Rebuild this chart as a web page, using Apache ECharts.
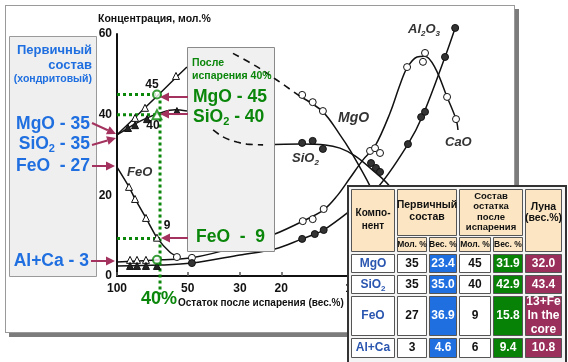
<!DOCTYPE html>
<html><head><meta charset="utf-8">
<script src="https://cdn.jsdelivr.net/npm/echarts@6/dist/echarts.min.js"></script>
<style>
html,body{margin:0;padding:0;background:#fff;width:568px;height:362px;overflow:hidden}
#frame{position:absolute;left:5px;top:5px;width:508px;height:326px;border:1px solid #9a9a9a;background:#fff;box-shadow:4px 4px 0 #7c7c7c}
#c{position:absolute;left:0;top:0;width:568px;height:362px}
</style></head><body>
<div id="frame"></div><div id="c"></div>
<script>
// ---------- DATA (residue wt.%, concentration mol.%) ----------
const residueTicks = [100, 50, 30, 20, 10];
const concTicks = [0, 20, 40, 60];

const mgoCurveA = [[100,35],[83.8,39.3],[76.0,41.7],[65.6,45.3],[56.1,49.2],[50.4,51.8]];
const mgoCurveDashed = [[32.1,55.2],[25.4,51.9],[20.9,48.6],[16.6,44.5]];
const mgoCurveB = [[16.6,44.5],[13.3,40.7],[11.25,35.0],[10.2,31.2],[8.3,21.8],[6.9,11.4],[5.95,2.7]];
const mgoTriangles = [[83.8,39.2],[76.0,41.7],[56.1,49.6]];
const mgoCircles = [[16.3,44.9],[14.7,43.1],[13.3,40.9]];

const sio2CurveA = [[100,35],[92.4,36.2],[83.8,37.7],[74.5,39.2],[65.6,40.4],[56.6,41.2],[50.4,40.9]];
const sio2CurveDashed = [[39.0,36.2],[35.4,34.5],[30.9,33.2],[28.0,32.7],[23.9,32.5]];
const sio2CurveB = [[23.9,32.5],[16.6,32.7],[13.0,32.5],[11.25,31.7],[9.71,29.8],[8.38,26.8],[6.82,21.8],[5.66,12.6],[4.89,2.7]];
const sio2Triangles = [[89.8,36.7],[83.8,37.4],[74.5,38.9],[55.6,40.9]];
const sio2Circles = [[16.3,33.0],[14.7,33.5],[13.3,31.5],[8.30,28.0],[7.91,26.8],[7.60,25.8]];

const feoCurve = [[100,27],[88.9,22.1],[83.8,19.1],[75.3,14.4],[67.6,9.5],[59.5,5.9],[54.0,4.4]];
const feoTriangles = [[88.9,22.1],[83.8,19.1],[75.3,14.4],[67.6,9.5]];

const caoCurve = [[100,3.5],[65.6,4.0],[48.0,4.5],[30.0,7.4],[21.3,10.4],[16.2,13.6],[13.2,16.4],[11.6,19.8],[10.2,24.3],[8.98,28.8],[7.98,32.2],[6.89,40.4],[6.25,47.4],[5.83,51.6],[5.29,54.3],[4.89,54.5],[4.43,51.6],[3.94,44.4],[3.61,38.9],[3.54,36.2]];
const caoTriangles = [[88.0,4.0],[82.2,4.0],[75.3,4.0]];
const caoCircles = [[55.6,4.7],[48.0,4.5],[16.2,13.6],[14.7,14.1],[13.2,16.6],[8.38,31.0],[7.98,31.7],[7.60,30.5],[5.83,51.8],[4.99,53.1],[4.89,55.3],[3.94,44.4],[3.61,38.9]];

const al2o3Curve = [[100,2.5],[65.6,2.7],[48.0,3.2],[30.0,5.2],[21.3,6.7],[16.3,9.2],[14.4,10.4],[13.2,11.4],[10.5,15.6],[7.82,21.8],[5.78,32.7],[4.99,39.9],[4.02,54.3],[3.64,61.5]];
const al2o3Triangles = [[88.0,2.5],[82.2,2.5],[75.3,2.5],[67.6,2.5]];
const al2o3Circles = [[48.0,3.2],[16.3,9.2],[14.4,10.4],[13.2,11.4],[5.78,32.7],[5.08,39.4],[4.89,40.7],[4.02,54.3],[3.64,61.5]];

const guideMgO = [[100,45],[65.6,45]];
const guideSiO2 = [[100,40],[65.6,40]];
const guideFeO = [[100,9.3],[65.6,9.3]];
const guideVertical = [[65.6,45],[65.6,-4.6]];
const highlightCircles = [[67.6,45],[67.6,4.0]];
const highlightTriangles = [[67.6,40]];

// table
const tableComponents = ['MgO','SiO2','FeO','Al+Ca'];
const primaryMol = ['35','35','27','3'];
const primaryWt = ['23.4','35.0','36.9','4.6'];
const residueMol = ['45','40','9','6'];
const residueWt = ['31.9','42.9','15.8','9.4'];
const moonWt = ['32.0','43.4','13+Fe\nIn the\ncore','10.8'];

// ---------- STYLE ----------
const FONT = '"Liberation Sans", Arial, Helvetica, sans-serif';
const BLUE = '#1f6fe0', GREEN = '#0a860a', MAROON = '#a3325e';
const chart = echarts.init(document.getElementById('c'));

function line(data, opt) {
  return Object.assign({type:'line', data, showSymbol:false, clip:false, smooth:0.35, z:2,
    lineStyle:{color:'#111', width:1.5}, silent:true}, opt || {});
}
function dashed(data) {
  return line(data, {z:4, lineStyle:{color:'#111', width:1.6, type:[7,5]}});
}
function pts(data, symbol, fill, size, z) {
  return {type:'scatter', data, symbol, symbolSize:size, clip:false, z:z||3, silent:true,
    itemStyle:{color:fill, borderColor:'#111', borderWidth:1, opacity:1}};
}
function guide(data) {
  return line(data, {smooth:false, z:3, lineStyle:{color:GREEN, width:3, type:'dotted', cap:'butt'}});
}
function txt(text, x, y, size, color, extra, z) {
  return {type:'text', z: z||6, style:Object.assign({text, x, y, fontSize:size, fontWeight:'bold',
    fontFamily:FONT, fill:color, align:'left', verticalAlign:'middle',
    textAlign:'left', textVerticalAlign:'middle'}, extra||{})};
}
function subTxt(parts, x, y, size, color, extra, z) {
  const s = Math.round(size*0.65);
  const base = {fontSize:size, lineHeight:size+4, fontWeight:'bold', fontFamily:FONT, fill:color};
  if (extra && extra.fontStyle) base.fontStyle = extra.fontStyle;
  const sub = Object.assign({}, base, {fontSize:s, lineHeight:s, verticalAlign:'bottom'});
  const text = parts.map(p => '{' + (p[1] ? 's' : 'n') + '|' + p[0] + '}').join('');
  return {type:'text', z: z||6, style:Object.assign({text, x, y, rich:{n:base, s:sub},
    align:'left', verticalAlign:'middle', textAlign:'left', textVerticalAlign:'middle'}, extra||{})};
}
function arrow(x1,y1,x2,y2) {
  const dx=x2-x1, dy=y2-y1, L=Math.hypot(dx,dy), ux=dx/L, uy=dy/L, hl=9, hw=4.5;
  const bx=x2-ux*hl, by=y2-uy*hl;
  return [
    {type:'line', z:7, shape:{x1, y1, x2:bx, y2:by}, style:{stroke:MAROON, lineWidth:2}},
    {type:'polygon', z:7, shape:{points:[[x2,y2],[bx-uy*hw,by+ux*hw],[bx+uy*hw,by-ux*hw]]}, style:{fill:MAROON}}
  ];
}
function compName(n) { return n === 'SiO2' ? [['SiO',0],['2',1]] : [[n,0]]; }

// ---------- GRAPHICS ----------
const g = [];
const R = {align:'right', textAlign:'right'};
g.push({type:'rect', z:1, shape:{x:9.5, y:36.5, width:87, height:240}, style:{fill:'#efefef', stroke:'#9a9a9a', lineWidth:1}});
g.push(txt('Первичный', 92, 50, 13, BLUE, R));
g.push(txt('состав', 92, 65, 13, BLUE, R));
g.push(txt('(хондритовый)', 92, 79, 10.5, BLUE, R));
g.push(subTxt([['MgO - 35',0]], 90, 124, 17.5, BLUE, R));
g.push(subTxt([['SiO',0],['2',1],[' - 35',0]], 90, 144, 17.5, BLUE, R));
g.push(subTxt([['FeO  - 27',0]], 90, 166, 17.5, BLUE, R));
g.push(subTxt([['Al+Ca - 3',0]], 89, 261, 17.5, BLUE, R));
arrow(92,123,116,134).forEach(e=>g.push(e));
arrow(92,145,116,138).forEach(e=>g.push(e));
arrow(92,166,115,166).forEach(e=>g.push(e));
arrow(91,261,115,261).forEach(e=>g.push(e));
g.push({type:'rect', z:3, shape:{x:187.5, y:47.5, width:87, height:204}, style:{fill:'#f0f0f0', stroke:'#8a8a8a', lineWidth:1}});
g.push(txt('После', 192, 63, 10.5, GREEN));
g.push(txt('испарения 40%', 192, 76, 10.5, GREEN));
g.push(subTxt([['MgO - 45',0]], 193, 97, 17.5, GREEN));
g.push(subTxt([['SiO',0],['2',1],[' - 40',0]], 193, 117, 17.5, GREEN));
g.push(subTxt([['FeO  -  9',0]], 196, 237, 17.5, GREEN));
arrow(188,97,160,97).forEach(e=>g.push(e));
arrow(188,114,160,114).forEach(e=>g.push(e));
arrow(188,238,161,238).forEach(e=>g.push(e));
g.push(txt('Концентрация, мол.%', 98, 19, 10.5, '#111'));
g.push(txt('Остаток после испарения (вес.%)', 178, 303, 10, '#111'));
g.push(txt('40%', 141, 299, 18, GREEN));
g.push(txt('45', 152, 85, 12, '#111', {align:'center', textAlign:'center'}));
g.push(txt('40', 153, 126, 12, '#111', {align:'center', textAlign:'center'}));
g.push(txt('9', 167, 226, 12, '#111', {align:'center', textAlign:'center'}));
g.push(txt('FeO', 127, 172, 13, '#333', {fontStyle:'italic'}));
g.push(txt('MgO', 338, 118, 14, '#333', {fontStyle:'italic'}));
g.push(subTxt([['SiO',0],['2',1]], 292, 158, 13, '#333', {fontStyle:'italic'}));
g.push(subTxt([['Al',0],['2',1],['O',0],['3',1]], 408, 29, 13, '#333', {fontStyle:'italic'}));
g.push(txt('CaO', 445, 142, 13, '#333', {fontStyle:'italic'}));

// table
const TZ = 10;
const colX = [350,396,428,458,492,524,563];
const rowY = [253,274,295,337,359];
const PEACH = '#fbe5c2', CELLSTROKE = '#555';
g.push({type:'rect', z:TZ, shape:{x:348, y:186, width:218, height:178}, style:{fill:'#f4f4f4', stroke:'#333', lineWidth:2}});
function cell(x0,y0,x1,y1,fill){ g.push({type:'rect', z:TZ+1, shape:{x:x0+1.5,y:y0+1.5,width:x1-x0-3,height:y1-y0-3}, style:{fill, stroke:CELLSTROKE, lineWidth:1}}); }
function ctext(t,x,y,size,color,lh){ g.push({type:'text', z:TZ+2, style:{text:t, x, y, fontSize:size, fontWeight:'bold', fontFamily:FONT, fill:color, lineHeight:lh||size+2, align:'center', verticalAlign:'middle', textAlign:'center', textVerticalAlign:'middle'}}); }
cell(350,188,396,253,PEACH); ctext('Компо-\nнент', 373, 220, 10, '#111', 13);
cell(396,188,458,237,PEACH); ctext('Первичный\nсостав', 427, 211, 10.5, '#111', 12);
cell(458,188,524,237,PEACH); ctext('Состав\nостатка\nпосле\nиспарения', 491, 212, 9.5, '#111', 10.5);
cell(524,188,563,253,PEACH); ctext('Луна\n(вес.%)', 543.5, 213, 10.5, '#111', 11);
const subHead = ['Мол. %','Вес. %','Мол. %','Вес. %'];
for (let i=0;i<4;i++){ cell(colX[i+1],236,colX[i+2],253,PEACH); ctext(subHead[i], (colX[i+1]+colX[i+2])/2, 245, 8.5, '#111'); }
for (let r=0;r<4;r++){
  const y0=rowY[r], y1=rowY[r+1], cy=(y0+y1)/2;
  cell(colX[0],y0,colX[1],y1,'#ffffff');
  g.push(subTxt(compName(tableComponents[r]), 373, cy, 12, '#2a56b0', {align:'center', textAlign:'center'}, TZ+2));
  const vals = [primaryMol[r], primaryWt[r], residueMol[r], residueWt[r], moonWt[r]];
  const fills = ['#ffffff', BLUE, '#ffffff', '#078207', '#9b2f5c'];
  const cols = ['#111', '#fff', '#111', '#fff', '#fff'];
  for (let c=0;c<5;c++){
    cell(colX[c+1],y0,colX[c+2],y1,fills[c]);
    ctext(vals[c], (colX[c+1]+colX[c+2])/2, cy, 12, cols[c], 14);
  }
}

// ---------- OPTION ----------
const option = {
  animation:false,
  grid:{left:117, top:34, width:376.5, height:242, containLabel:false},
  xAxis:{type:'log', logBase:10, inverse:true, min:2.5, max:100,
    axisLine:{show:true, onZero:false, lineStyle:{color:'#111', width:2}},
    axisTick:{show:true, inside:true, length:4, customValues:residueTicks, lineStyle:{color:'#555', width:1.5}},
    minorTick:{show:false}, splitLine:{show:false},
    axisLabel:{customValues:residueTicks, margin:7, color:'#111', fontSize:12, fontWeight:'bold', fontFamily:FONT}},
  yAxis:{type:'value', min:0, max:60, interval:20,
    axisLine:{show:true, onZero:false, lineStyle:{color:'#111', width:2}},
    axisTick:{show:false}, splitLine:{show:false},
    axisLabel:{customValues:concTicks, margin:5, color:'#111', fontSize:12, fontWeight:'bold', fontFamily:FONT}},
  series:[
    line(mgoCurveA, {smooth:false}), dashed(mgoCurveDashed), line(mgoCurveB),
    line(sio2CurveA), dashed(sio2CurveDashed), line(sio2CurveB),
    line(feoCurve, {smooth:0.2}),
    line(caoCurve), line(al2o3Curve),
    guide(guideMgO), guide(guideSiO2), guide(guideFeO), guide(guideVertical),
    pts(mgoTriangles,'triangle','#fff',7), pts(mgoCircles,'circle','#fff',7),
    pts(sio2Triangles,'triangle','#222',7), pts(sio2Circles,'circle','#333',7),
    pts(feoTriangles,'triangle','#fff',7),
    pts(caoTriangles,'triangle','#fff',7), pts(caoCircles,'circle','#fff',7),
    pts(al2o3Triangles,'triangle','#222',7), pts(al2o3Circles,'circle','#333',7),
    {type:'scatter', data:highlightCircles, symbol:'circle', symbolSize:8, clip:false, z:4, silent:true,
      itemStyle:{color:'#fff', borderColor:GREEN, borderWidth:2}},
    {type:'scatter', data:highlightTriangles, symbol:'triangle', symbolSize:9, clip:false, z:4, silent:true,
      itemStyle:{color:'#fff', borderColor:GREEN, borderWidth:2}}
  ],
  graphic:g
};
chart.setOption(option);
</script></body></html>
